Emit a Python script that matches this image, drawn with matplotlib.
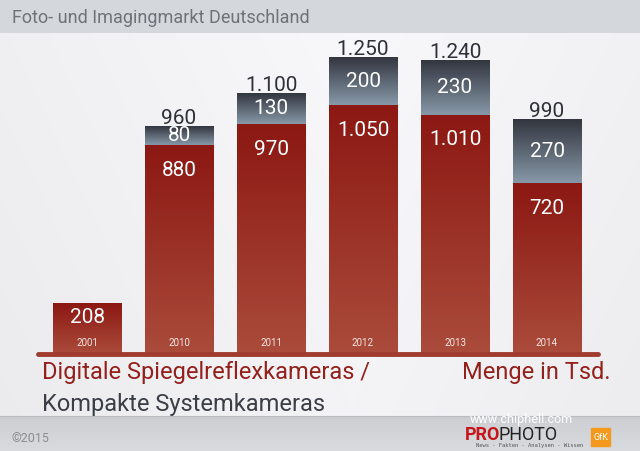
import matplotlib
matplotlib.use('Agg')
import matplotlib.pyplot as plt
import numpy as np
from matplotlib.colors import LinearSegmentedColormap
from matplotlib.patches import Rectangle

#data (Menge in Tsd.)
years = ["2001", "2010", "2011", "2012", "2013", "2014"]
dslr = [208, 880, 970, 1050, 1010, 720]     # red part
csc = [0, 80, 130, 200, 230, 270]           # gray part (Systemkameras)
totals = ["208", "960", "1.100", "1.250", "1.240", "990"]
dslr_labels = ["208", "880", "970", "1.050", "1.010", "720"]
csc_labels = ["", "80", "130", "200", "230", "270"]

plt.rcParams['font.family'] = ['Roboto', 'DejaVu Sans']

W, H = 640, 451
fig = plt.figure(figsize=(6.4, 4.51), dpi=100)

#background gradient
bg = fig.add_axes([0, 0, 1, 1])
yy = np.linspace(0, 1, H)[:, None]
xx = np.linspace(0, 1, W)[None, :]
img = np.ones((H, W, 3))
base = 0.955 - 0.06 * np.abs(xx - 0.55) + 0.02 * (1 - yy)
img[:] = base[..., None]
img[:, :, 2] += 0.01
head = 33
img[:head] = np.array([0.835, 0.845, 0.86])
foot = 416
img[foot:] = (np.array([0.80, 0.81, 0.82]) + 0.05 * np.linspace(0, 1, H - foot)[:, None])[:, None, :]
img = np.clip(img, 0, 1)
bg.imshow(img, extent=[0, W, H, 0], aspect='auto')
bg.plot([0, W], [foot, foot], color='#b8bcc0', lw=0.8)
bg.set_xlim(0, W)
bg.set_ylim(H, 0)
bg.axis('off')

#main bar axes, pixel-based placement
x_left, x_right = 38, 598
y_base, px_per_unit = 353, 0.236
ymax = 1400
ax = fig.add_axes([x_left / W, (H - y_base) / H, (x_right - x_left) / W, ymax * px_per_unit / H])
ax.set_ylim(0, ymax)
c0, step = 87, 92
ax.set_xlim((x_left - c0) / step, (x_right - c0) / step)
ax.axis('off')

red_cmap = LinearSegmentedColormap.from_list('r', ['#aa4b3b', '#8c1813'])
gray_cmap = LinearSegmentedColormap.from_list('g', ['#8798a8', '#33363f'])
grad = np.linspace(0, 1, 100)[:, None]
bw = 0.74
num_size = 15
for i in range(len(years)):
    x0 = i - bw / 2
    # red part (DSLR)
    ax.imshow(grad, cmap=red_cmap, extent=[x0, x0 + bw, 0, dslr[i]], origin='lower', aspect='auto')
    if csc[i] > 0:
        ax.imshow(grad, cmap=gray_cmap, extent=[x0, x0 + bw, dslr[i], dslr[i] + csc[i]],
                  origin='lower', aspect='auto')
        ax.annotate(csc_labels[i], (i, dslr[i] + csc[i] / 2), ha='center', va='center',
                    color='white', fontsize=num_size)
        ax.annotate(totals[i], (i, dslr[i] + csc[i]), xytext=(0, 6), textcoords='offset points',
                    ha='center', va='center', color='#2e3138', fontsize=num_size)
        ax.annotate(dslr_labels[i], (i, dslr[i]), xytext=(0, -18), textcoords='offset points',
                    ha='center', va='center', color='white', fontsize=num_size)
    else:
        ax.annotate(dslr_labels[i], (i, dslr[i]), xytext=(0, -10), textcoords='offset points',
                    ha='center', va='center', color='white', fontsize=num_size)
    ax.annotate(years[i], (i, 0), xytext=(0, 7.5), textcoords='offset points',
                ha='center', va='center', color='#f4e6e2', fontsize=7)
ax.set_xlim((x_left - c0) / step, (x_right - c0) / step)
ax.set_ylim(0, ymax)

#baseline
ax.plot(ax.get_xlim(), [-6, -6], color='#a03c2e', lw=3.5, solid_capstyle='round', clip_on=False)

#texts
fig.text(12 / W, 1 - 18 / H, "Foto- und Imagingmarkt Deutschland", color='#6e7279',
         fontsize=13, va='center', ha='left')
fig.text(42 / W, 1 - 373 / H, "Digitale Spiegelreflexkameras /", color='#94201b',
         fontsize=17, va='center', ha='left')
fig.text(42 / W, 1 - 405 / H, "Kompakte Systemkameras", color='#3b3e46',
         fontsize=17, va='center', ha='left')
fig.text(462 / W, 1 - 373 / H, "Menge in Tsd.", color='#94201b',
         fontsize=17, va='center', ha='left')
fig.text(12 / W, 1 - 439 / H, "©2015", color='#8a8d92', fontsize=9, va='center', ha='left')

#logo area
fig.text(470 / W, 1 - 420 / H, "www.chiphell.com", color='white', fontsize=9, va='center', ha='left')
fig.text(465 / W, 1 - 435 / H, "PRO", color='#c4161c', fontsize=13, fontweight='bold', va='center', ha='left')
fig.text(499 / W, 1 - 435 / H, "PHOTO", color='#222222', fontsize=13, va='center', ha='left')
fig.text(476 / W, 1 - 446 / H, "News · Fakten · Analysen · Wissen", color='#555555', fontsize=4,
         va='center', ha='left', family=['DejaVu Sans Mono'])
bg.add_patch(Rectangle((591, 428), 19, 18, color='#f39a1e'))
bg.text(600.5, 437, "GfK", color='white', fontsize=6.5, ha='center', va='center')

fig.savefig('out.png', dpi=100)
